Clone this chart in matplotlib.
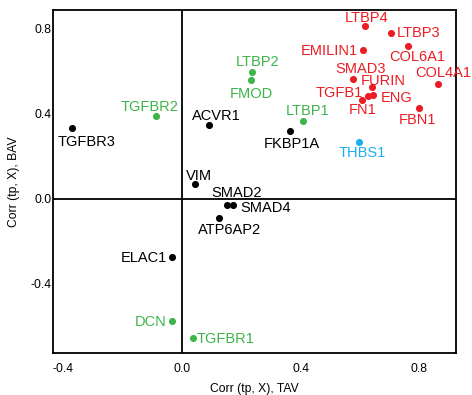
import matplotlib
matplotlib.use("Agg")
import matplotlib.pyplot as plt

plt.rcParams['font.family'] = ['Liberation Sans', 'DejaVu Sans']

genes = ["TGFBR3", "TGFBR2", "ACVR1", "VIM", "SMAD2", "SMAD4", "ATP6AP2", "ELAC1",
         "DCN", "TGFBR1", "LTBP2", "FMOD", "LTBP1", "FKBP1A", "THBS1", "LTBP4",
         "LTBP3", "EMILIN1", "COL6A1", "COL4A1", "SMAD3", "FURIN", "FN1", "TGFB1",
         "ENG", "FBN1"]
tav = [-0.371, -0.088, 0.091, 0.044, 0.152, 0.172, 0.125, -0.034,
       -0.034, 0.037, 0.236, 0.233, 0.408, 0.364, 0.597, 0.617,
       0.705, 0.610, 0.762, 0.864, 0.577, 0.641, 0.607, 0.627,
       0.644, 0.800]
bav = [0.332, 0.388, 0.346, 0.068, -0.031, -0.031, -0.092, -0.275,
       -0.576, -0.656, 0.595, 0.558, 0.365, 0.318, 0.266, 0.812,
       0.779, 0.699, 0.718, 0.539, 0.562, 0.525, 0.464, 0.482,
       0.487, 0.426]
group = ["k", "g", "k", "k", "k", "k", "k", "k",
         "g", "g", "g", "g", "g", "k", "b", "r",
         "r", "r", "r", "r", "r", "r", "r", "r",
         "r", "r"]
xticks = [-0.4, 0.0, 0.4, 0.8]
yticks = [-0.4, 0.0, 0.4, 0.8]

colors = {"k": "#000000", "g": "#3DB54A", "b": "#1CAEEF", "r": "#EC1C24"}

# label placement: (dx px, dy px, ha, va)
place = {
    "TGFBR3": (15, -7, "center", "top"),
    "TGFBR2": (-6, 2, "center", "bottom"),
    "ACVR1": (7, 2, "center", "bottom"),
    "VIM": (4, 1, "center", "bottom"),
    "SMAD2": (10, 5, "center", "bottom"),
    "SMAD4": (7, -3, "left", "center"),
    "ATP6AP2": (10, -5, "center", "top"),
    "ELAC1": (-5, -1.5, "right", "center"),
    "DCN": (-5, -1.5, "right", "center"),
    "TGFBR1": (4, -1.5, "left", "center"),
    "LTBP2": (6, 3, "center", "bottom"),
    "FMOD": (0, -7, "center", "top"),
    "LTBP1": (5, 3, "center", "bottom"),
    "FKBP1A": (2, -6, "center", "top"),
    "THBS1": (3, -4, "center", "top"),
    "LTBP4": (2, 1, "center", "bottom"),
    "LTBP3": (6, -0.5, "left", "center"),
    "EMILIN1": (-5, -1.5, "right", "center"),
    "COL6A1": (9, -4, "center", "top"),
    "COL4A1": (5, 4, "center", "bottom"),
    "SMAD3": (7, 3, "center", "bottom"),
    "FURIN": (11, -1, "center", "bottom"),
    "FN1": (1, -3, "center", "top"),
    "TGFB1": (-5, 3.5, "right", "center"),
    "ENG": (8, -2.5, "left", "center"),
    "FBN1": (-2, -5, "center", "top"),
}

fig = plt.figure(figsize=(4.72, 3.95), dpi=100)
ax = fig.add_axes([53/472, 1-353/395, (456-53)/472, (353-10)/395])

for g, x, y, c in zip(genes, tav, bav, group):
    col = colors[c]
    ax.scatter([x], [y], s=26, color=col, zorder=3, linewidths=0)
    dx, dy, ha, va = place[g]
    ax.annotate(g, (x, y), xytext=(dx, dy), textcoords="offset pixels",
                ha=ha, va=va, color=col, fontsize=10.5, zorder=4,
                annotation_clip=False)

ax.axhline(0, color="black", lw=1.3, zorder=1)
ax.axvline(0, color="black", lw=1.3, zorder=1)

ax.set_xlim(-0.435, 0.924)
ax.set_ylim(-0.727, 0.887)
ax.set_xticks(xticks)
ax.set_yticks(yticks)
ax.set_xticklabels([f"{t:.1f}" for t in xticks])
ax.set_yticklabels([f"{t:.1f}" for t in yticks])
ax.tick_params(length=0, labelsize=8.7)
ax.tick_params(axis="x", pad=7)
ax.tick_params(axis="y", pad=1)
for s in ax.spines.values():
    s.set_linewidth(1.3)

ax.set_xlabel("Corr (tp, X), TAV", fontsize=8.7, labelpad=6)
ax.set_ylabel("Corr (tp, X), BAV", fontsize=8.7, labelpad=8)

fig.savefig("out.png", dpi=100)
